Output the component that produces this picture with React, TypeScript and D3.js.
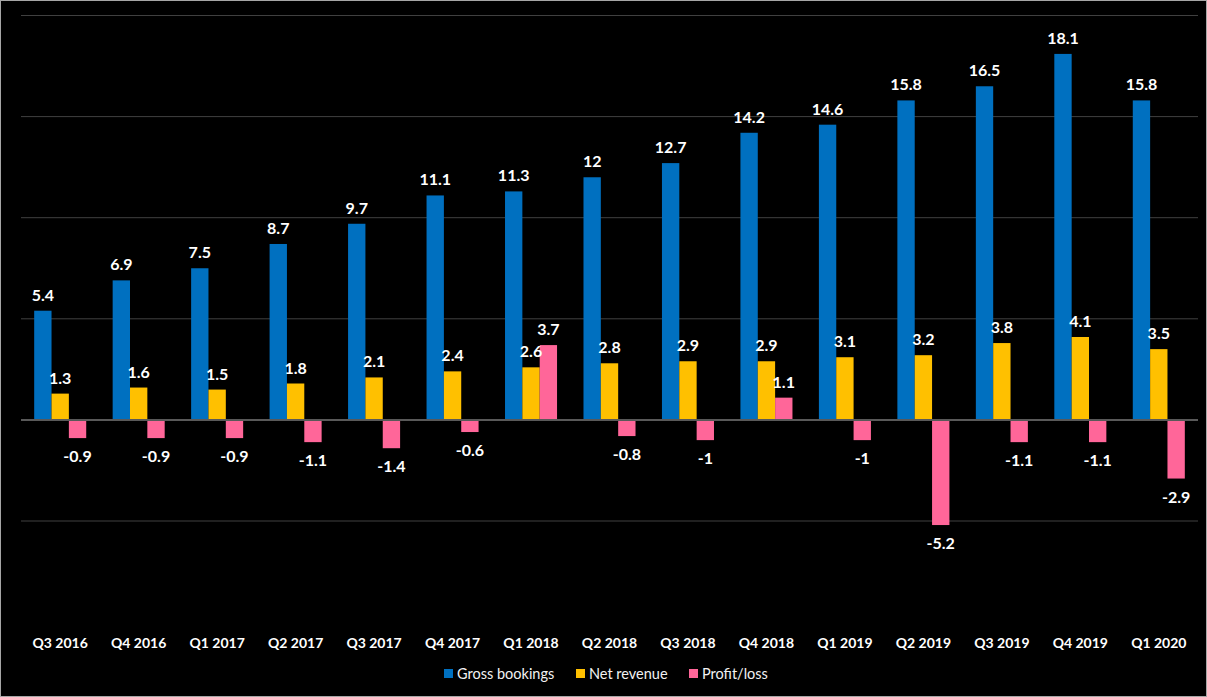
import { useEffect, useRef } from 'react';
import * as d3 from 'd3';

const quarters = [
  'Q3 2016', 'Q4 2016', 'Q1 2017', 'Q2 2017', 'Q3 2017', 'Q4 2017', 'Q1 2018', 'Q2 2018',
  'Q3 2018', 'Q4 2018', 'Q1 2019', 'Q2 2019', 'Q3 2019', 'Q4 2019', 'Q1 2020'
];
const grossBookings = [5.4, 6.9, 7.5, 8.7, 9.7, 11.1, 11.3, 12, 12.7, 14.2, 14.6, 15.8, 16.5, 18.1, 15.8];
const netRevenue = [1.3, 1.6, 1.5, 1.8, 2.1, 2.4, 2.6, 2.8, 2.9, 2.9, 3.1, 3.2, 3.8, 4.1, 3.5];
const profitLoss = [-0.9, -0.9, -0.9, -1.1, -1.4, -0.6, 3.7, -0.8, -1, 1.1, -1, -5.2, -1.1, -1.1, -2.9];
const seriesNames = ['Gross bookings', 'Net revenue', 'Profit/loss'];
const seriesColors = ['#0070C0', '#FFC000', '#FF6699'];
const gridTicks = [-5, 0, 5, 10, 15, 20];

const W = 1207;
const H = 697;

export default function App() {
  const svgRef = useRef<SVGSVGElement>(null);

  useEffect(() => {
    if (!svgRef.current) return;
    const svg = d3.select(svgRef.current);
    svg.selectAll('*').remove();

    const font = 'Lato, "Open Sans", sans-serif';
    const series = [grossBookings, netRevenue, profitLoss];

    svg.append('rect')
      .attr('x', 0.5).attr('y', 0.5)
      .attr('width', W - 1).attr('height', H - 1)
      .attr('fill', '#000')
      .attr('stroke', '#a6a6a6');

    const left = 21;
    const right = 1198;

    const x = d3.scaleBand<string>()
      .domain(quarters)
      .range([left, right])
      .paddingInner(0.337)
      .paddingOuter(0.168);

    const xs = d3.scaleBand<number>()
      .domain([0, 1, 2])
      .range([0, x.bandwidth()]);

    const y = d3.scaleLinear().domain([-5, 20]).range([521, 15.5]);

    // gridlines
    svg.append('g')
      .selectAll('line')
      .data(gridTicks.filter(t => t !== 0))
      .join('line')
      .attr('x1', left).attr('x2', right)
      .attr('y1', d => y(d)).attr('y2', d => y(d))
      .attr('stroke', '#404040')
      .attr('stroke-width', 1);

    // bars
    series.forEach((vals, si) => {
      svg.append('g')
        .selectAll('rect')
        .data(vals)
        .join('rect')
        .attr('x', (_, i) => (x(quarters[i]) ?? 0) + (xs(si) ?? 0))
        .attr('width', xs.bandwidth())
        .attr('y', d => y(Math.max(0, d)))
        .attr('height', d => Math.abs(y(d) - y(0)))
        .attr('fill', seriesColors[si]);
    });

    // zero line
    svg.append('line')
      .attr('x1', left).attr('x2', right)
      .attr('y1', y(0)).attr('y2', y(0))
      .attr('stroke', '#595959')
      .attr('stroke-width', 2);

    // value labels
    series.forEach((vals, si) => {
      svg.append('g')
        .selectAll('text')
        .data(vals)
        .join('text')
        .attr('x', (_, i) => (x(quarters[i]) ?? 0) + (xs(si) ?? 0) + xs.bandwidth() / 2)
        .attr('y', d => (d >= 0 ? y(d) - 10 : y(d) + 24))
        .attr('text-anchor', 'middle')
        .attr('fill', '#fff')
        .attr('font-family', font)
        .attr('font-weight', 'bold')
        .attr('font-size', 16)
        .text(d => String(d));
    });

    // x labels
    svg.append('g')
      .selectAll('text')
      .data(quarters)
      .join('text')
      .attr('x', d => (x(d) ?? 0) + x.bandwidth() / 2)
      .attr('y', 648)
      .attr('text-anchor', 'middle')
      .attr('fill', '#fff')
      .attr('font-family', font)
      .attr('font-weight', 'bold')
      .attr('font-size', 14)
      .text(d => d);

    // legend
    const legendX = [444, 576, 689];
    const lg = svg.append('g');
    seriesNames.forEach((name, i) => {
      lg.append('rect')
        .attr('x', legendX[i]).attr('y', 669)
        .attr('width', 9).attr('height', 9)
        .attr('fill', seriesColors[i]);
      lg.append('text')
        .attr('x', legendX[i] + 13).attr('y', 679)
        .attr('fill', '#f2f2f2')
        .attr('font-family', font)
        .attr('font-size', 14.5)
        .text(name);
    });
  }, []);

  return (
    <div style={{ position: 'absolute', left: 0, top: 0 }}>
      <svg ref={svgRef} width={W} height={H} style={{ display: 'block' }} />
    </div>
  );
}
